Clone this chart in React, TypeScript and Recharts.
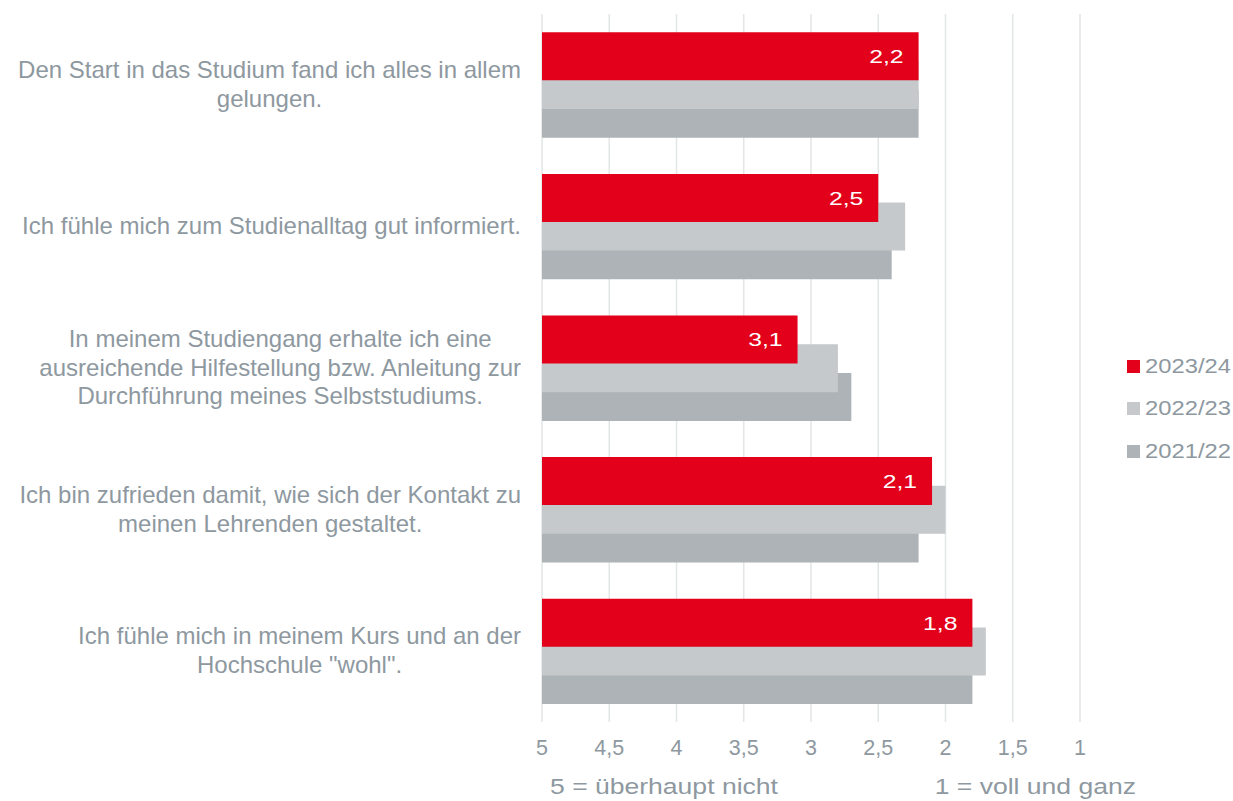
import { Bar, BarChart, CartesianGrid, LabelList, Legend, XAxis, YAxis } from 'recharts'

const categories = [
  'Den Start in das Studium fand ich alles in allem\ngelungen.',
  'Ich fühle mich zum Studienalltag gut informiert.',
  'In meinem Studiengang erhalte ich eine\nausreichende Hilfestellung bzw. Anleitung zur\nDurchführung meines Selbststudiums.',
  'Ich bin zufrieden damit, wie sich der Kontakt zu\nmeinen Lehrenden gestaltet.',
  'Ich fühle mich in meinem Kurs und an der\nHochschule "wohl".',
]
const values2324 = [2.2, 2.5, 3.1, 2.1, 1.8]
const values2223 = [2.2, 2.3, 2.8, 2.0, 1.7]
const values2122 = [2.2, 2.4, 2.7, 2.2, 1.8]
const xTicks = [5, 4.5, 4, 3.5, 3, 2.5, 2, 1.5, 1]

const seriesInfo = [
  { key: 'v2324', name: '2023/24', color: '#e2001a' },
  { key: 'v2223', name: '2022/23', color: '#c5c9cb' },
  { key: 'v2122', name: '2021/22', color: '#adb3b6' },
]

const data = categories.map((c, i) => ({
  cat: c,
  v2324: values2324[i],
  v2223: values2223[i],
  v2122: values2122[i],
}))

const GREY = '#8e989f'
const FONT = '"Liberation Sans", Arial, sans-serif'
const fmt = (v: number) => String(v).replace('.', ',')

// label block: centred lines, widest line ends at labelRight
const labelRight = 521

function CategoryTick(props: any) {
  const { y, payload } = props
  const lines: string[] = String(payload.value).split('\n')
  return (
    <foreignObject x={labelRight - 530} y={y - 60} width={530} height={120}>
      <div
        style={{
          height: 120,
          display: 'flex',
          alignItems: 'center',
          justifyContent: 'flex-end',
        }}
      >
        <div
          style={{
            textAlign: 'center',
            whiteSpace: 'nowrap',
            color: GREY,
            fontSize: 24,
            lineHeight: '28.7px',
            fontFamily: FONT,
          }}
        >
          {lines.map((l, i) => (
            <div key={i}>{l}</div>
          ))}
        </div>
      </div>
    </foreignObject>
  )
}

function ValueLabel(props: any) {
  const { x, y, width, height, value } = props
  const v = Array.isArray(value) ? value[1] : value
  const tx = x + width - 15
  const ty = y + height / 2
  return (
    <text
      transform={`translate(${tx},${ty}) scale(1.3,1)`}
      textAnchor="end"
      dy="0.36em"
      fill="#ffffff"
      fontSize={19}
      fontFamily={FONT}
    >
      {fmt(v)}
    </text>
  )
}

function AxisTitles(props: any) {
  const { viewBox } = props
  const { x, y } = viewBox
  const w = viewBox.width
  const ty = y + 64
  return (
    <g fill={GREY} fontSize={22.5} fontFamily={FONT}>
      <text transform={`translate(${x + 8},${ty}) scale(1.18,1)`} dy="0.36em" textAnchor="start">
        5 = überhaupt nicht
      </text>
      <text transform={`translate(${x + w + 56},${ty}) scale(1.18,1)`} dy="0.36em" textAnchor="end">
        1 = voll und ganz
      </text>
    </g>
  )
}

function LegendBox() {
  return (
    <div style={{ fontFamily: FONT }}>
      {seriesInfo.map((s) => (
        <div key={s.key} style={{ display: 'flex', alignItems: 'center', height: 42.5 }}>
          <span style={{ width: 13, height: 13, background: s.color, display: 'inline-block', marginRight: 5 }} />
          <span
            style={{
              color: GREY,
              fontSize: 19.5,
              display: 'inline-block',
              transform: 'scaleX(1.22)',
              transformOrigin: 'left center',
            }}
          >
            {s.name}
          </span>
        </div>
      ))}
    </div>
  )
}

const shift = 28.7

export default function App() {
  return (
    <div style={{ position: 'absolute', left: 0, top: 0, background: '#fff' }}>
      <BarChart
        width={1233}
        height={801}
        data={data}
        layout="vertical"
        margin={{ top: 14, right: 153, bottom: 0, left: 0 }}
      >
        <CartesianGrid horizontal={false} stroke="#e3e6e6" strokeWidth={1.5} />
        <XAxis
          type="number"
          domain={[1, 5]}
          ticks={xTicks}
          reversed
          axisLine={false}
          tickLine={false}
          tickMargin={12}
          height={79}
          tickFormatter={fmt}
          tick={{ fill: GREY, fontSize: 21.5, fontFamily: FONT }}
          label={<AxisTitles />}
        />
        <YAxis
          yAxisId="top"
          type="category"
          dataKey="cat"
          hide
          padding={{ top: -shift, bottom: shift }}
        />
        <YAxis
          yAxisId="mid"
          type="category"
          dataKey="cat"
          width={542}
          axisLine={false}
          tickLine={false}
          tickSize={0}
          tick={<CategoryTick />}
          interval={0}
        />
        <YAxis
          yAxisId="low"
          type="category"
          dataKey="cat"
          hide
          padding={{ top: shift, bottom: -shift }}
        />
        <Legend
          layout="vertical"
          align="center"
          verticalAlign="middle"
          content={<LegendBox />}
          wrapperStyle={{ left: 1127, top: 345, width: 110 }}
        />
        <Bar
          yAxisId="low"
          name="2021/22"
          dataKey={(d: any) => [5, d.v2122]}
          fill="#adb3b6"
          barSize={48}
          isAnimationActive={false}
        />
        <Bar
          yAxisId="mid"
          name="2022/23"
          dataKey={(d: any) => [5, d.v2223]}
          fill="#c5c9cb"
          barSize={48}
          isAnimationActive={false}
        />
        <Bar
          yAxisId="top"
          name="2023/24"
          dataKey={(d: any) => [5, d.v2324]}
          fill="#e2001a"
          barSize={48}
          isAnimationActive={false}
        >
          <LabelList dataKey="v2324" content={<ValueLabel />} />
        </Bar>
      </BarChart>
    </div>
  )
}
